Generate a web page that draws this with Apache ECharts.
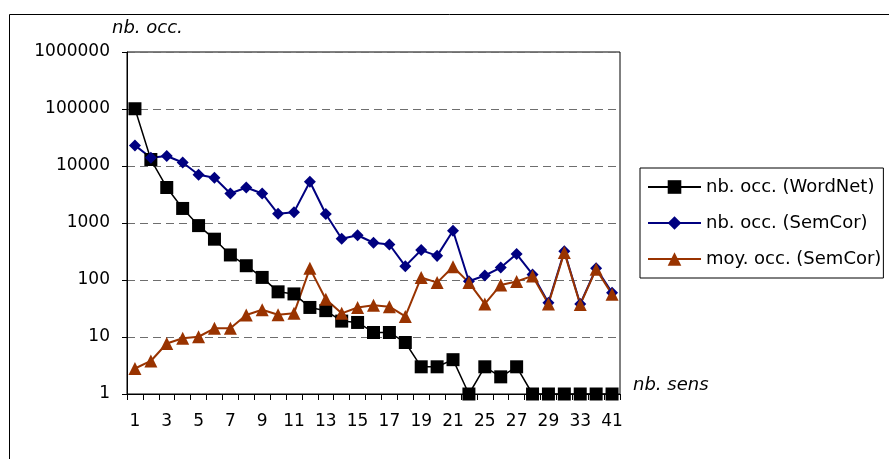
<!DOCTYPE html>
<html>
<head>
<meta charset="utf-8">
<script src="https://cdn.jsdelivr.net/npm/echarts@6/dist/echarts.min.js"></script>
<style>
  html, body { margin: 0; padding: 0; background: #fff; }
  #chart { width: 889px; height: 459px; }
</style>
</head>
<body>
<div id="chart"></div>
<script>
// Number of senses (x categories)
const senses = ['1','2','3','4','5','6','7','8','9','10','11','12','13','14','15','16','17','18','19','20','21','23','25','26','27','28','29','30','33','36','41'];

// Number of words per sense count in WordNet
const occWordNet = [101000, 13000, 4200, 1800, 900, 520, 275, 178, 111, 62, 57, 33, 29, 19, 18, 12, 12, 8, 3, 3, 4, 1, 3, 2, 3, 1, 1, 1, 1, 1, 1];

// Number of occurrences in SemCor
const occSemCor = [23000, 14000, 15000, 11500, 7000, 6200, 3300, 4200, 3300, 1450, 1550, 5300, 1440, 530, 610, 450, 420, 175, 335, 265, 730, 95, 120, 165, 285, 125, 40, 320, 38, 160, 60];

// Mean number of occurrences in SemCor
const meanSemCor = [2.8, 3.8, 7.7, 9.5, 10.1, 14.2, 14.2, 24.3, 30, 24.5, 26, 160, 46, 26, 33, 36, 34, 23, 111, 90, 171, 90, 38, 82, 94, 118, 38, 305, 37, 155, 56];

const seriesNames = ['nb. occ. (WordNet)', 'nb. occ. (SemCor)', 'moy. occ. (SemCor)'];

const FONT = 'DejaVu Sans';

const chart = echarts.init(document.getElementById('chart'), null, { renderer: 'canvas' });

chart.setOption({
  animation: false,
  backgroundColor: '#ffffff',
  textStyle: { fontFamily: FONT, color: '#000' },
  title: {
    text: 'nb. occ.',
    left: 112,
    top: 19,
    padding: 0,
    textStyle: { fontFamily: FONT, fontSize: 18, fontStyle: 'italic', fontWeight: 'normal', color: '#000' }
  },
  graphic: [{
    type: 'rect',
    silent: true,
    z: -10,
    shape: { x: 9.5, y: 14.5, width: 900, height: 500 },
    style: { fill: 'none', stroke: '#000', lineWidth: 1 }
  }],
  legend: {
    orient: 'vertical',
    left: 640,
    top: 168,
    itemWidth: 53,
    itemHeight: 17,
    itemGap: 18,
    padding: [10, 2, 10, 7],
    borderColor: '#000',
    borderWidth: 1,
    textStyle: { fontFamily: FONT, fontSize: 18, color: '#000' },
    data: seriesNames
  },
  grid: {
    left: 127,
    right: 269,
    top: 52,
    bottom: 65,
    show: true,
    borderColor: '#000',
    borderWidth: 1,
    outerBoundsMode: 'none'
  },
  xAxis: {
    type: 'category',
    data: senses,
    boundaryGap: true,
    name: 'nb. sens',
    nameLocation: 'end',
    nameGap: 13,
    nameTextStyle: { fontFamily: FONT, fontSize: 18, fontStyle: 'italic', color: '#000', verticalAlign: 'bottom' },
    axisLine: { show: true, lineStyle: { color: '#000', width: 1 } },
    axisTick: { show: true, interval: 0, length: 6, lineStyle: { color: '#000' } },
    axisLabel: { interval: 1, margin: 19, fontFamily: FONT, fontSize: 17, color: '#000' },
    splitLine: { show: false }
  },
  yAxis: {
    type: 'log',
    logBase: 10,
    min: 1,
    max: 1000000,
    interval: 1,
    axisLine: { show: true, lineStyle: { color: '#000', width: 1 } },
    axisTick: { show: true, length: 5, lineStyle: { color: '#000' } },
    axisLabel: {
      margin: 17,
      fontFamily: FONT,
      fontSize: 17,
      color: '#000',
      formatter: v => String(Math.round(v))
    },
    splitLine: { show: true, lineStyle: { color: '#6e6e6e', width: 1, type: [8, 5] } },
    minorTick: { show: false }
  },
  series: [
    {
      name: seriesNames[0],
      type: 'line',
      data: occWordNet,
      symbol: 'rect',
      symbolSize: 13,
      showSymbol: true,
      showAllSymbol: true,
      color: '#000000',
      lineStyle: { color: '#000000', width: 1.5 },
      itemStyle: { color: '#000000' },
      emphasis: { disabled: true }
    },
    {
      name: seriesNames[1],
      type: 'line',
      data: occSemCor,
      symbol: 'diamond',
      symbolSize: 12,
      showSymbol: true,
      showAllSymbol: true,
      color: '#000080',
      lineStyle: { color: '#000080', width: 2 },
      itemStyle: { color: '#000080' },
      emphasis: { disabled: true }
    },
    {
      name: seriesNames[2],
      type: 'line',
      data: meanSemCor,
      symbol: 'triangle',
      symbolSize: 13,
      showSymbol: true,
      showAllSymbol: true,
      color: '#993300',
      lineStyle: { color: '#993300', width: 2 },
      itemStyle: { color: '#993300' },
      emphasis: { disabled: true }
    }
  ]
});
</script>
</body>
</html>
